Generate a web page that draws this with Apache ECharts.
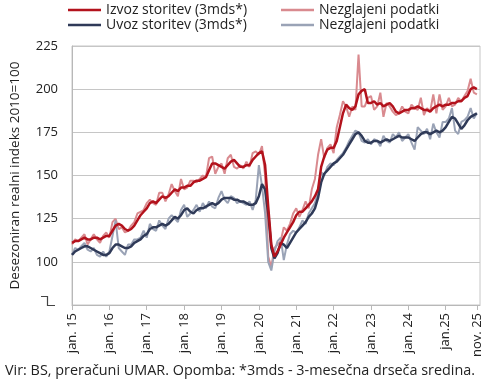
<!DOCTYPE html>
<html><head><meta charset="utf-8">
<script src="https://cdn.jsdelivr.net/npm/echarts@6/dist/echarts.min.js"></script>
<style>html,body{margin:0;padding:0;background:#fff}#c{width:490px;height:385px}</style>
</head><body><div id="c"></div>
<script>
// Monthly data, Jan 2015 – Nov 2025
const startYear = 2015;
const monthCount = 131;
const tickIndex = [0,12,24,36,48,60,72,84,96,108,120,130];
const tickLabels = ['jan. 15','jan. 16','jan. 17','jan. 18','jan. 19','jan. 20','jan. 21','jan. 22','jan. 23','jan. 24','jan.25','nov. 25'];

const izvoz3mds = [
111,112,112,113,114,113,113,114,114,113,114,115,
115,118,121,122,121,119,118,119,121,124,127,129,
131,134,135,134,136,138,137,138,140,142,141,143,
143,144,144,146,147,147,148,149,153,157,157,156,
155,154,156,158,159,157,155,155,156,156,159,161,
163,164,156,132,110,103,106,110,114,117,120,123,
127,129,129,131,133,135,138,142,155,161,165,166,
166,170,178,186,191,189,188,190,197,199,200,192,
192,193,191,192,190,191,192,190,187,186,187,188,
188,189,189,190,189,188,188,187,189,190,191,190,
191,191,192,192,193,193,195,196,200,201,200];
const izvozRaw = [
110,113,112,114,116,110,113,116,113,111,115,117,
114,123,125,119,120,117,118,121,123,128,129,130,
134,136,134,133,140,140,135,139,145,141,138,148,
142,143,147,147,146,148,150,149,160,161,151,155,
157,151,160,162,155,154,156,154,158,155,163,164,
162,167,150,103,97,108,110,112,120,118,122,128,
131,126,130,135,131,142,148,162,171,160,166,168,
163,178,185,193,190,184,190,188,220,190,190,195,
196,188,190,198,184,192,190,187,185,186,190,187,
186,191,189,188,195,185,189,187,197,186,197,188,
190,195,190,191,195,193,196,199,206,198,197];
const uvoz3mds = [
104,106,107,108,109,109,108,107,106,105,104,104,
105,108,110,110,109,108,108,109,111,112,113,115,
116,119,120,120,121,122,121,122,124,126,125,127,
130,131,129,128,130,131,131,132,133,134,133,134,
136,137,137,137,136,136,135,135,134,133,133,134,
138,145,142,128,108,102,105,111,110,108,111,114,
117,119,121,123,126,128,131,137,146,151,153,155,
157,158,160,162,165,168,171,174,175,173,170,169,
169,170,170,169,170,171,170,171,172,173,172,172,
172,171,170,172,174,175,175,174,175,176,175,176,
178,181,184,183,180,177,179,182,184,185,186];
const uvozRaw = [
104,108,107,109,111,107,106,108,104,103,106,103,
106,115,124,108,106,104,110,110,113,113,114,118,
114,122,119,118,124,121,119,125,127,125,123,130,
133,126,128,130,133,129,134,131,135,132,131,137,
141,136,134,138,137,134,135,134,133,135,130,136,
156,144,128,100,95,106,112,114,101,110,116,118,
117,120,124,122,128,131,134,141,152,150,155,157,
156,159,161,163,166,170,173,176,175,170,169,171,
168,171,170,167,173,170,169,174,172,175,170,172,
174,169,165,178,176,174,177,171,180,175,172,181,
181,183,189,176,174,181,182,184,189,183,186];

const categories = [];
for (let i = 0; i < monthCount; i++) {
  const y = startYear + Math.floor(i / 12), m = i % 12 + 1;
  categories.push(y + '-' + (m < 10 ? '0' : '') + m);
}
categories.push('');

const C_IZ = '#b3121c', C_IZR = '#d98a8f', C_UV = '#2f3a58', C_UVR = '#9aa3b6';
const FONT = 'Open Sans';
const chart = echarts.init(document.getElementById('c'), null, {renderer: 'canvas'});
const showTick = (i) => tickIndex.indexOf(i) >= 0;

chart.setOption({
  animation: false,
  textStyle: {fontFamily: FONT},
  title: {
    text: 'Vir: BS, preračuni UMAR. Opomba: *3mds - 3-mesečna drseča sredina.',
    left: 5, top: 364, padding: 0,
    textStyle: {fontFamily: FONT, fontSize: 14.4, fontWeight: 'normal', color: '#222'}
  },
  legend: [
    {data: ['Izvoz storitev (3mds*)', 'Uvoz storitev (3mds*)'], orient: 'vertical',
     left: 68, top: 3, itemGap: 1, itemWidth: 33, itemHeight: 2.5, icon: 'rect', padding: 0,
     textStyle: {fontFamily: FONT, fontSize: 14, color: '#222'}},
    {data: ['Nezglajeni podatki', 'Nezglajeni podatki '], orient: 'vertical',
     left: 281, top: 3, itemGap: 1, itemWidth: 33, itemHeight: 2.5, icon: 'rect', padding: 0,
     formatter: (n) => n.trim(),
     textStyle: {fontFamily: FONT, fontSize: 14, color: '#222'}}
  ],
  grid: {left: 70, right: 10, top: 46, bottom: 80, show: true, borderColor: '#c6c6c6', borderWidth: 1},
  xAxis: {
    type: 'category', data: categories, boundaryGap: false,
    axisLine: {lineStyle: {color: '#b8b8b8'}},
    axisTick: {show: true, interval: showTick, length: 5, lineStyle: {color: '#b8b8b8'}},
    axisLabel: {interval: showTick, rotate: 90, margin: 8, fontSize: 13, color: '#222', fontFamily: FONT,
      formatter: (v, i) => { const k = tickIndex.indexOf(i); return k >= 0 ? tickLabels[k] : ''; }},
    splitLine: {show: false}
  },
  yAxis: {
    type: 'value', min: 75, max: 225, interval: 25,
    name: 'Desezoniran realni indeks 2010=100', nameLocation: 'middle', nameGap: 50,
    nameTextStyle: {fontSize: 13.5, color: '#222', fontFamily: FONT},
    axisLine: {show: true, lineStyle: {color: '#b8b8b8'}},
    axisTick: {show: false},
    axisLabel: {fontSize: 13, color: '#222', margin: 14, fontFamily: FONT,
      formatter: (v) => v === 75 ? '' : String(v)},
    splitLine: {show: true, lineStyle: {color: '#c6c6c6', width: 1}}
  },
  graphic: [{
    type: 'polyline', silent: true,
    shape: {points: [[41, 296.5], [47.5, 296.5], [47.5, 305.5], [55, 305.5]]},
    style: {stroke: '#444', lineWidth: 1.2, fill: null}
  }],
  series: [
    {name: 'Nezglajeni podatki', type: 'line', data: izvozRaw, showSymbol: false, symbol: 'none',
     lineStyle: {color: C_IZR, width: 2}, itemStyle: {color: C_IZR}, z: 1},
    {name: 'Nezglajeni podatki ', type: 'line', data: uvozRaw, showSymbol: false, symbol: 'none',
     lineStyle: {color: C_UVR, width: 2}, itemStyle: {color: C_UVR}, z: 2},
    {name: 'Uvoz storitev (3mds*)', type: 'line', data: uvoz3mds, showSymbol: false, symbol: 'none',
     lineStyle: {color: C_UV, width: 2.5}, itemStyle: {color: C_UV}, z: 3},
    {name: 'Izvoz storitev (3mds*)', type: 'line', data: izvoz3mds, showSymbol: false, symbol: 'none',
     lineStyle: {color: C_IZ, width: 2.5}, itemStyle: {color: C_IZ}, z: 4}
  ]
});
</script></body></html>
